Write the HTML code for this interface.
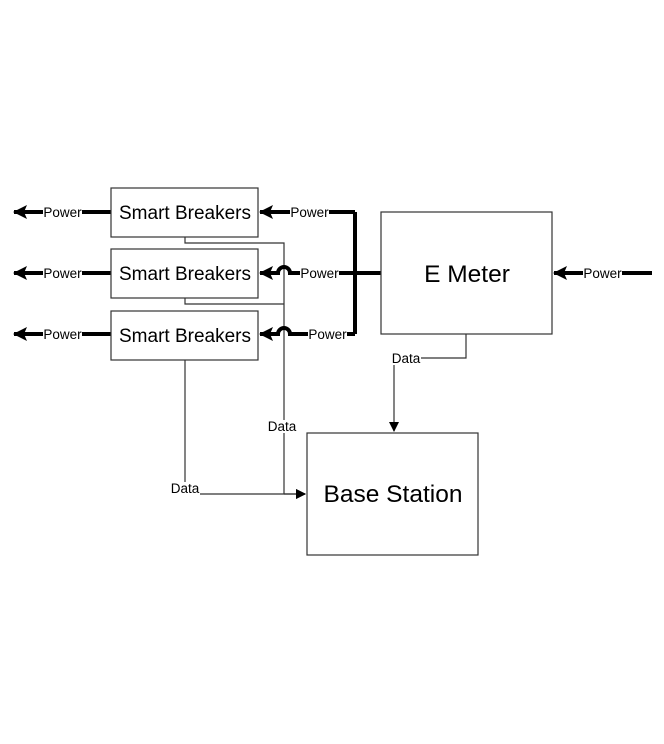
<!DOCTYPE html>
<html><head><style>body{margin:0;background:#fff}svg{display:block}</style></head><body>
<svg width="664" height="744" viewBox="0 0 664 744" font-family="Liberation Sans, sans-serif">
<defs>
<marker id="a" markerWidth="10" markerHeight="10" refX="9" refY="5" orient="auto" markerUnits="userSpaceOnUse"><path d="M0,0 L10,5 L0,10 Z" fill="#000"/></marker>
<marker id="b" markerWidth="14" markerHeight="14" refX="13" refY="7" orient="auto" markerUnits="userSpaceOnUse"><path d="M0,0 L14,7 L0,14 L3,7 Z" fill="#000"/></marker>
</defs>
<g fill="none" stroke="#333" stroke-width="1.2">
<path d="M185 237V243H284V494" />
<path d="M185 298V304H284" />
<path d="M185 360V494H305" marker-end="url(#a)"/>
<path d="M284 494H305" marker-end="url(#a)"/>
<path d="M466 334V358H394V431" marker-end="url(#a)"/>
</g>
<g fill="none" stroke="#000" stroke-width="4">
<path d="M355 212V334"/>
<path d="M355 273H382"/>
<path d="M355 212H260" marker-end="url(#b)"/>
<path d="M355 273H290 a6 6 0 0 0 -12 0H260" marker-end="url(#b)"/>
<path d="M355 334H290 a6 6 0 0 0 -12 0H260" marker-end="url(#b)"/>
<path d="M111 212H14" marker-end="url(#b)"/>
<path d="M111 273H14" marker-end="url(#b)"/>
<path d="M111 334H14" marker-end="url(#b)"/>
<path d="M652 273H554" marker-end="url(#b)"/>
</g>
<g fill="#fff" stroke="#333" stroke-width="1.2">
<rect x="111" y="188" width="147" height="49"/>
<rect x="111" y="249" width="147" height="49"/>
<rect x="111" y="311" width="147" height="49"/>
<rect x="381" y="212" width="171" height="122"/>
<rect x="307" y="433" width="171" height="122"/>
</g>
<g font-size="19" text-anchor="middle" fill="#000">
<text x="185" y="219">Smart Breakers</text>
<text x="185" y="280">Smart Breakers</text>
<text x="185" y="342">Smart Breakers</text>
<text x="467" y="282" font-size="24.5">E Meter</text>
<text x="393" y="502" font-size="24.5">Base Station</text>
</g>
<g font-size="13.5" text-anchor="middle" fill="#000">
<g fill="#fff"><rect x="43" y="206" width="39" height="13"/><rect x="43" y="267" width="39" height="13"/><rect x="43" y="328" width="39" height="13"/><rect x="290" y="206" width="39" height="13"/><rect x="300" y="267" width="39" height="13"/><rect x="308" y="328" width="39" height="13"/><rect x="583" y="267" width="39" height="13"/><rect x="392" y="352" width="29" height="13"/><rect x="268" y="420" width="29" height="13"/><rect x="171" y="482" width="29" height="13"/></g>
<text x="62.5" y="217">Power</text><text x="62.5" y="278">Power</text><text x="62.5" y="339">Power</text>
<text x="309.5" y="217">Power</text><text x="319.5" y="278">Power</text><text x="327.5" y="339">Power</text>
<text x="602.5" y="278">Power</text>
<text x="406" y="363">Data</text><text x="282" y="431">Data</text><text x="185" y="493">Data</text>
</g>
</svg>
</body></html>
